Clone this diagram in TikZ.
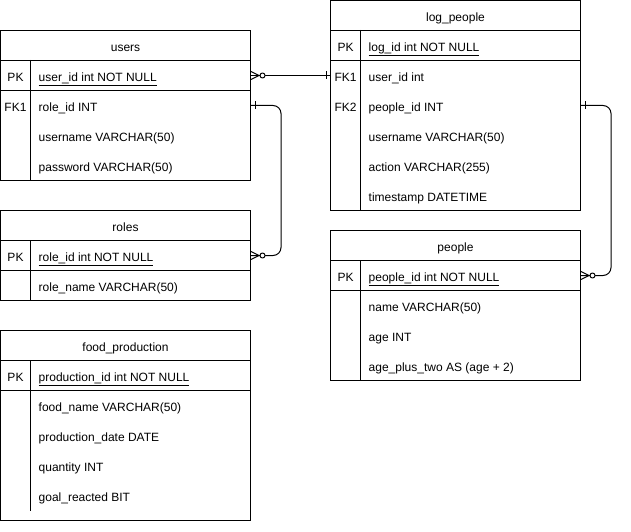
\documentclass[tikz,border=0pt]{standalone}
\usepackage{fontspec}
\setmainfont{Liberation Sans}
\usetikzlibrary{calc}

\tikzset{
  tbl/.style={draw=black, line width=1pt, minimum width=250pt, minimum height=30pt,
    inner sep=0pt, text height=12pt, text depth=0pt},
  keytxt/.style={minimum width=30pt, inner sep=0pt, text height=12pt, text depth=0pt},
  fieldtxt/.style={anchor=west, inner sep=0pt, text height=12pt, text depth=0pt},
  conn/.style={line width=1pt, line join=round},
}
% crow's foot with circle (zero or many), pointing right from the table edge
\newcommand{\zeromany}[1]{%
  \draw[conn] ($(#1)+(0,-4)$) -- ($(#1)+(8,0)$) -- ($(#1)+(0,4)$);
  \draw[conn, fill=white] ($(#1)+(11.5,0)$) circle (2.5pt);}
% single bar (exactly one)
\newcommand{\onebar}[2]{%
  \draw[conn] ($(#1)+(#2,-4)$) -- ($(#1)+(#2,4)$);}

\begin{document}
\begin{tikzpicture}[x=1pt, y=-1pt, font=\fontsize{12}{14}\selectfont]
    \useasboundingbox (0,0) rectangle (631,532);

    % users
    \node[tbl] (users) at (125.5,45.5) {users};
    \node[tbl] (usersPK) at (125.5,75.5) {};
    \node[tbl, minimum height=90pt] (usersBody) at (125.5,135.5) {};
    \draw[conn] ([xshift=30pt]usersPK.north west) -- ([xshift=30pt]usersBody.south west);
    \node[keytxt] (usersPKkey) at (15.5,75.5) {PK};
    \node[fieldtxt] (usersId) at (38.5,75.5) {\underline{user\_id int NOT NULL}};
    \node[keytxt] (usersFK1) at (15.5,105.5) {FK1};
    \node[fieldtxt] (usersRole) at (38.5,105.5) {role\_id INT};
    \node[fieldtxt] (usersName) at (38.5,135.5) {username VARCHAR(50)};
    \node[fieldtxt] (usersPass) at (38.5,165.5) {password VARCHAR(50)};

    % log_people
    \node[tbl] (log) at (455.5,15.5) {log\_people};
    \node[tbl] (logPK) at (455.5,45.5) {};
    \node[tbl, minimum height=150pt] (logBody) at (455.5,135.5) {};
    \draw[conn] ([xshift=30pt]logPK.north west) -- ([xshift=30pt]logBody.south west);
    \node[keytxt] (logPKkey) at (345.5,45.5) {PK};
    \node[fieldtxt] (logId) at (368.5,45.5) {\underline{log\_id int NOT NULL}};
    \node[keytxt] (logFK1) at (345.5,75.5) {FK1};
    \node[fieldtxt] (logUser) at (368.5,75.5) {user\_id int};
    \node[keytxt] (logFK2) at (345.5,105.5) {FK2};
    \node[fieldtxt] (logPeople) at (368.5,105.5) {people\_id INT};
    \node[fieldtxt] (logName) at (368.5,135.5) {username VARCHAR(50)};
    \node[fieldtxt] (logAction) at (368.5,165.5) {action VARCHAR(255)};
    \node[fieldtxt] (logTime) at (368.5,195.5) {timestamp DATETIME};

    % roles
    \node[tbl] (roles) at (125.5,225.5) {roles};
    \node[tbl] (rolesPK) at (125.5,255.5) {};
    \node[tbl] (rolesBody) at (125.5,285.5) {};
    \draw[conn] ([xshift=30pt]rolesPK.north west) -- ([xshift=30pt]rolesBody.south west);
    \node[keytxt] (rolesPKkey) at (15.5,255.5) {PK};
    \node[fieldtxt] (rolesId) at (38.5,255.5) {\underline{role\_id int NOT NULL}};
    \node[fieldtxt] (rolesName) at (38.5,285.5) {role\_name VARCHAR(50)};

    % people
    \node[tbl] (people) at (455.5,245.5) {people};
    \node[tbl] (peoplePK) at (455.5,275.5) {};
    \node[tbl, minimum height=90pt] (peopleBody) at (455.5,335.5) {};
    \draw[conn] ([xshift=30pt]peoplePK.north west) -- ([xshift=30pt]peopleBody.south west);
    \node[keytxt] (peoplePKkey) at (345.5,275.5) {PK};
    \node[fieldtxt] (peopleId) at (368.5,275.5) {\underline{people\_id int NOT NULL}};
    \node[fieldtxt] (peopleName) at (368.5,305.5) {name VARCHAR(50)};
    \node[fieldtxt] (peopleAge) at (368.5,335.5) {age INT};
    \node[fieldtxt] (peopleAge2) at (368.5,365.5) {age\_plus\_two AS (age + 2)};

    % food_production
    \node[tbl] (food) at (125.5,345.5) {food\_production};
    \node[tbl] (foodPK) at (125.5,375.5) {};
    \node[tbl, minimum height=130pt] (foodBody) at (125.5,455.5) {};
    \draw[conn] ([xshift=30pt]foodPK.north west) -- ([xshift=30pt,yshift=10pt]foodBody.south west);
    \node[keytxt] (foodPKkey) at (15.5,375.5) {PK};
    \node[fieldtxt] (foodId) at (38.5,375.5) {\underline{production\_id int NOT NULL}};
    \node[fieldtxt] (foodName) at (38.5,405.5) {food\_name VARCHAR(50)};
    \node[fieldtxt] (foodDate) at (38.5,435.5) {production\_date DATE};
    \node[fieldtxt] (foodQty) at (38.5,465.5) {quantity INT};
    \node[fieldtxt] (foodGoal) at (38.5,495.5) {goal\_reacted BIT};

    % relations
    \draw[conn] (usersPK.east) -- (logFK1.west);
    \zeromany{usersPK.east}
    \onebar{logFK1.west}{-4}

    \draw[conn, rounded corners=8pt] (usersRole -| users.east) -- ++(30,0) |- (rolesPK.east);
    \onebar{usersRole -| users.east}{4}
    \zeromany{rolesPK.east}

    \draw[conn, rounded corners=8pt] (logPeople -| log.east) -- ++(30,0) |- (peoplePK.east);
    \onebar{logPeople -| log.east}{4}
    \zeromany{peoplePK.east}
\end{tikzpicture}
\end{document}
